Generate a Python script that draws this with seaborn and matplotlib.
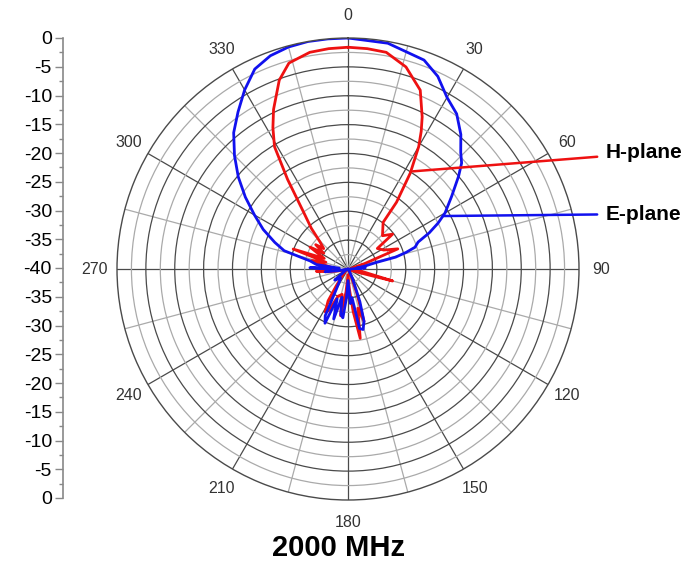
import numpy as np
import matplotlib
matplotlib.use('Agg')
import matplotlib.pyplot as plt
import seaborn as sns

# E-plane (blue) pattern, angle in degrees (clockwise from top) and level in dB
e_deg = [0, 10, 20, 25, 30, 35, 40, 44, 47, 50, 55, 60, 63, 66, 69, 72, 74, 76, 77, 80,
         84, 86, 90, 100, 110, 120, 130, 140, 150, 155, 160, 163, 166, 169, 172, 176, 180,
         183, 186, 189, 192, 196, 200, 203, 206, 210, 215, 220, 230, 240, 250, 260, 263,
         266, 270, 272, 275, 278, 282, 284, 286, 290, 295, 300, 305, 310, 315, 320, 325,
         330, 335, 340, 345, 350, 355, 360]
e_db = [0, -0.3, -1.5, -3.2, -5.7, -7.2, -9.6, -11.9, -13.1, -15.0, -18.1, -20.6, -22.5,
        -24.6, -27.0, -27.8, -29.5, -31.5, -35.0, -37.0, -38.5, -37.0, -39.5, -39.8, -40,
        -40, -40, -40, -39.5, -38, -34, -30.5, -29.2, -29.5, -35, -34, -38, -35, -31.5, -32,
        -35, -31, -34.5, -29.8, -31, -36, -37.5, -38, -37, -39.5, -40, -38.5, -36, -37,
        -36.5, -33.4, -38.5, -34.5, -33.3, -31.5, -28.5, -26.5, -23.8, -21.3, -18.3, -15.2,
        -12.2, -9.2, -6.8, -4.2, -1.8, -0.7, -0.2, 0, 0, 0]

# H-plane (red) pattern
h_deg = [0, 5, 10, 16, 22, 26, 28, 30, 33, 36, 37, 46, 52, 55, 62, 68, 72, 78, 85, 95,
         100, 105, 108, 115, 130, 145, 155, 160, 163, 166, 170, 173, 176, 180, 185, 189,
         193, 200, 205, 208, 212, 215, 220, 230, 245, 255, 262, 266, 270, 278, 283, 287,
         290, 294, 300, 303, 307, 310, 314, 318, 322, 326, 329, 332, 335, 340, 344, 350,
         355, 360]
h_db = [-1.6, -1.7, -1.9, -3.6, -6.6, -10.7, -13, -15.5, -20.2, -25.7, -29.9, -31.7, -30.2,
        -33.8, -33, -30.7, -37, -39.5, -38.8, -38.5, -37.5, -32, -38, -39.5, -40, -40, -39,
        -35.5, -30.5, -33, -27.8, -32.5, -36.5, -39, -36, -31.8, -35.5, -35, -32, -31.6,
        -33.5, -36.5, -38.5, -39.5, -40, -39, -36.5, -34.5, -38, -36.5, -33.5, -36, -29.9,
        -35.5, -32.4, -35, -33, -34.5, -33.3, -30.5, -27.5, -21.3, -15.3, -12.3, -9.5,
        -5.2, -2.9, -1.9, -1.7, -1.6]

theta_ticks = [0, 30, 60, 90, 120, 150, 180, 210, 240, 270, 300, 330]
theta_minor = [15, 45, 75, 105, 135, 165, 195, 225, 255, 285, 315, 345]
r_major = [-35, -30, -25, -20, -15, -10, -5]
r_minor = [-37.5, -32.5, -27.5, -22.5, -17.5, -12.5, -7.5, -2.5]
side_ticks = list(range(-40, 41, 5))
side_labels = [str(-(40 - abs(v))) for v in side_ticks]

sns.set_style('white')
plt.rcParams['font.family'] = ['Liberation Sans', 'DejaVu Sans']

fig = plt.figure(figsize=(6.98, 5.70), dpi=100)
ax = fig.add_axes([117 / 698, 70 / 570, 462 / 698, 462 / 570], projection='polar')

sns.lineplot(x=np.deg2rad(h_deg), y=h_db, ax=ax, sort=False, estimator=None,
             color='#ee1111', lw=2.0)
sns.lineplot(x=np.deg2rad(e_deg), y=e_db, ax=ax, sort=False, estimator=None,
             color='#1111ee', lw=2.0)

ax.set_theta_zero_location('N')
ax.set_theta_direction(-1)
ax.set_rlim(-40, 0)
ax.set_xticks(np.deg2rad(theta_ticks))
ax.set_xticklabels([str(t) for t in theta_ticks])
ax.set_xticks(np.deg2rad(theta_minor), minor=True)
ax.set_yticks(r_major)
ax.set_yticks(r_minor, minor=True)
ax.set_yticklabels([])
ax.grid(which='major', color='#4a4a4a', lw=0.9)
ax.grid(which='minor', color='#aaaaaa', lw=0.9)
ax.tick_params(axis='x', which='both', length=0, pad=9, labelsize=11.5, labelcolor='#333333')
ax.tick_params(axis='y', which='both', length=0)
ax.spines['polar'].set_color('#4a4a4a')
ax.spines['polar'].set_linewidth(1.0)
ax.set_xlabel('')
ax.set_ylabel('')

# callout labels
ax.annotate('H-plane', xy=(np.deg2rad(33.6), -19.7), xycoords='data',
            xytext=(606 / 698, 1 - 153 / 570), textcoords='figure fraction',
            ha='left', va='center', fontsize=15, fontweight='bold', color='black',
            arrowprops=dict(arrowstyle='-', color='#ee1111', lw=1.8, shrinkA=4, shrinkB=0))
ax.annotate('E-plane', xy=(np.deg2rad(60.8), -21.2), xycoords='data',
            xytext=(606 / 698, 1 - 214 / 570), textcoords='figure fraction',
            ha='left', va='center', fontsize=15, fontweight='bold', color='black',
            arrowprops=dict(arrowstyle='-', color='#1111ee', lw=1.8, shrinkA=4, shrinkB=0))

# side scale
lax = fig.add_axes([63 / 698, 72 / 570, 0.0005, 460 / 570])
lax.set_facecolor('none')
lax.set_ylim(-40, 40)
lax.set_yticks(side_ticks)
lax.set_yticklabels(side_labels)
lax.set_yticks(np.arange(-37.5, 40, 5), minor=True)
lax.set_xticks([])
for s in ['top', 'right', 'bottom']:
    lax.spines[s].set_visible(False)
lax.spines['left'].set_color('#888888')
lax.spines['left'].set_linewidth(1.2)
lax.tick_params(axis='y', which='major', left=True, length=6, width=1, color='#888888',
                labelsize=14, labelcolor='black', pad=2)
lax.tick_params(axis='y', which='minor', left=True, length=3, width=1, color='#888888')

fig.text(339 / 698, 1 - 548 / 570, '2000 MHz', ha='center', va='center',
         fontsize=21, fontweight='bold', color='black')

fig.savefig('out.png', dpi=100)
